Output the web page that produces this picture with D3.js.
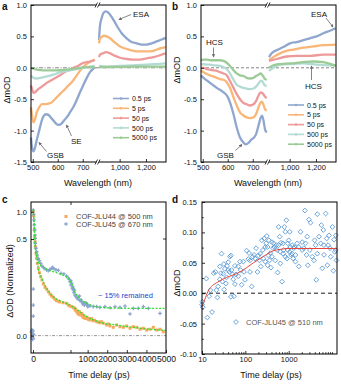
<!DOCTYPE html>
<html><head><meta charset="utf-8">
<script src="https://cdn.jsdelivr.net/npm/d3@7"></script>
<style>
body{margin:0;background:#fff}
svg{display:block}
text{font-family:'Liberation Sans',Arial,sans-serif;fill:#111}
</style>
</head><body>
<svg id="fig" width="341" height="386"></svg>
<script>
// ---------------- DATA ----------------
const seriesNames = ["0.5 ps","5 ps","50 ps","500 ps","5000 ps"];
const seriesColors = ["#8fa7cf","#f8b678","#ee9a9a","#b2dbd3","#9ccb98"];

// Panel a : [wavelength nm, ΔmOD]
const a05 = [[493,-1.11],[497,-1.27],[503,-1.33],[509,-1.27],[516,-1.15],[527,-0.98],[536,-0.84],[545,-0.76],[553,-0.74],[563,-0.75],[572,-0.79],[583,-0.84],[593,-0.89],[604,-0.91],[615,-0.89],[625,-0.84],[636,-0.79],[649,-0.71],[663,-0.62],[676,-0.51],[689,-0.39],[703,-0.27],[716,-0.16],[729,-0.07],[743,-0.01],[748,0.01],
  [843,0.44],[851,0.68],[863,0.79],[876,0.87],[896,0.90],[914,0.88],[939,0.81],[965,0.72],[990,0.63],[1015,0.55],[1053,0.47],[1091,0.41],[1129,0.39],[1167,0.37],[1205,0.37],[1243,0.39],[1281,0.42],[1319,0.45],[1349,0.48]];
const a5 = [[493,-0.63],[497,-0.76],[503,-0.87],[509,-0.82],[516,-0.71],[527,-0.62],[536,-0.58],[549,-0.58],[563,-0.57],[576,-0.55],[589,-0.50],[603,-0.44],[616,-0.39],[629,-0.34],[643,-0.28],[656,-0.23],[669,-0.16],[683,-0.08],[696,-0.01],[709,0.04],[723,0.08],[736,0.11],[748,0.13],
  [843,0.39],[851,0.47],[863,0.49],[881,0.51],[901,0.50],[927,0.47],[965,0.40],[1003,0.34],[1053,0.30],[1104,0.27],[1154,0.26],[1205,0.26],[1256,0.27],[1306,0.31],[1349,0.33]];
const a50 = [[493,-0.28],[499,-0.36],[503,-0.40],[509,-0.39],[519,-0.35],[529,-0.32],[543,-0.28],[556,-0.24],[569,-0.21],[583,-0.18],[596,-0.15],[609,-0.12],[623,-0.08],[636,-0.05],[649,-0.03],[663,0.00],[676,0.02],[689,0.05],[703,0.08],[716,0.09],[729,0.10],[748,0.12],
  [843,0.17],[851,0.21],[871,0.23],[896,0.25],[927,0.23],[965,0.19],[1003,0.16],[1053,0.14],[1104,0.13],[1154,0.13],[1205,0.15],[1256,0.17],[1306,0.20],[1349,0.23]];
const a500 = [[493,-0.12],[503,-0.16],[516,-0.17],[529,-0.16],[543,-0.15],[563,-0.13],[583,-0.11],[609,-0.07],[636,-0.05],[663,-0.03],[689,-0.01],[716,0.01],[748,0.03],
  [843,0.03],[901,0.02],[1003,0.03],[1104,0.04],[1205,0.05],[1349,0.07]];
const a5000 = [[493,0.00],[516,-0.03],[543,-0.04],[569,-0.04],[596,-0.04],[636,-0.03],[676,-0.01],[716,0.01],[748,0.01],
  [843,0.01],[1104,0.02],[1349,0.02]];

// Panel b
const b05 = [[493,-0.12],[503,-0.16],[516,-0.20],[529,-0.24],[543,-0.28],[556,-0.32],[569,-0.35],[583,-0.39],[596,-0.44],[609,-0.55],[623,-0.74],[636,-0.95],[649,-1.11],[663,-1.19],[673,-1.22],[684,-1.19],[695,-1.14],[705,-1.11],[713,-1.06],[723,-0.92],[732,-0.79],[737,-0.76],[743,-0.84],[749,-0.98],[756,-1.03],
  [843,0.17],[863,0.23],[901,0.28],[952,0.33],[1003,0.39],[1053,0.41],[1104,0.44],[1154,0.47],[1205,0.50],[1256,0.55],[1306,0.59],[1349,0.63]];
const b5 = [[493,-0.04],[503,-0.07],[516,-0.10],[529,-0.12],[543,-0.14],[556,-0.16],[569,-0.18],[583,-0.19],[596,-0.23],[609,-0.32],[623,-0.47],[636,-0.60],[649,-0.71],[663,-0.76],[676,-0.79],[689,-0.80],[703,-0.79],[713,-0.74],[723,-0.63],[732,-0.55],[737,-0.54],[743,-0.59],[749,-0.66],[756,-0.68],
  [843,0.12],[876,0.17],[927,0.23],[977,0.27],[1028,0.29],[1104,0.32],[1180,0.34],[1256,0.36],[1349,0.37]];
const b50 = [[493,0.00],[503,0.00],[516,-0.02],[529,-0.03],[543,-0.04],[556,-0.05],[569,-0.07],[583,-0.09],[596,-0.12],[609,-0.21],[623,-0.32],[636,-0.42],[649,-0.50],[663,-0.56],[676,-0.58],[689,-0.60],[703,-0.58],[713,-0.53],[723,-0.44],[732,-0.39],[737,-0.40],[743,-0.42],[749,-0.46],[756,-0.48],
  [843,0.11],[901,0.14],[977,0.18],[1053,0.19],[1154,0.19],[1256,0.21],[1349,0.21]];
const b500 = [[493,0.05],[503,0.06],[516,0.05],[529,0.05],[543,0.04],[556,0.04],[569,0.03],[583,0.01],[596,-0.02],[609,-0.09],[623,-0.19],[636,-0.27],[649,-0.30],[663,-0.32],[676,-0.33],[689,-0.34],[703,-0.33],[713,-0.30],[723,-0.25],[732,-0.21],[737,-0.21],[743,-0.25],[749,-0.28],[756,-0.29],
  [843,-0.05],[876,0.00],[927,0.05],[1003,0.06],[1104,0.07],[1205,0.05],[1306,0.04],[1349,0.04]];
const b5000 = [[493,0.11],[503,0.13],[516,0.13],[529,0.12],[543,0.12],[569,0.12],[583,0.11],[596,0.08],[609,0.03],[623,-0.04],[636,-0.09],[649,-0.12],[663,-0.13],[676,-0.16],[689,-0.17],[703,-0.16],[713,-0.13],[723,-0.11],[732,-0.09],[737,-0.11],[743,-0.14],[749,-0.18],[756,-0.19],
  [843,0.00],[876,0.04],[927,0.06],[1003,0.07],[1104,0.09],[1180,0.10],[1256,0.09],[1349,0.03]];

const specYTicks = [1.0,0.5,0.0,-0.5,-1.0,-1.5];
const specXTicksL = [500,600,700];
const specXTicksR = [1000,1200];

// Panel c : [time ps, ΔOD normalized]
const c44 = [[-5,0.01],[-1,-0.01],[1,1.01],[2.6,0.93],[5.2,0.67],[6.5,0.54],[7.8,0.486],[9.1,0.46],[11.8,0.426],[14.4,0.40],[17,0.374],[21,0.348],[24.9,0.326],[30.2,0.305],[35.5,0.288],[40.8,0.267],[47.3,0.25],[54,0.24],[60.5,0.227],[67,0.215],[73.6,0.205],[80,0.198],[86.6,0.188],[93,0.181],[100,0.178],[106,0.174],[119,0.17],[133,0.167],[139.5,0.158],[146,0.153],[185,0.15],[268,0.146],[320,0.142],[354,0.139],[380,0.133],[405,0.129],[450,0.125],[475,0.119],[523,0.112],[550,0.118],[575,0.124],[609,0.107],[640,0.11],[696,0.115],[720,0.104],[747,0.098],[790,0.094],[813,0.101],[865,0.089],[900,0.09],[951,0.095],[1000,0.09],[1033,0.084],[1120,0.081],[1150,0.085],[1204,0.088],[1288,0.077],[1350,0.079],[1462,0.072],[1550,0.07],[1630,0.067],[1700,0.072],[1800,0.064],[1970,0.055],[2050,0.06],[2141,0.05],[2311,0.043],[2481,0.055],[2651,0.046],[2822,0.043],[2992,0.05],[3162,0.038],[3332,0.046],[3502,0.043],[3672,0.033],[3843,0.038],[4013,0.029],[4183,0.033],[4353,0.043],[4524,0.029],[4694,0.033],[4864,0.02]];
const c45 = [[-6,0.02],[-5,-0.01],[-4,0.03],[-3,0.0],[-2,-0.02],[-1,0.01],[0,0.025],[1,-0.015],[2,0.005],[1,0.241],[1,0.158],[1,0.101],[1.1,1.03],[2.6,0.95],[3.9,0.85],[5.2,0.76],[6.5,0.67],[7.8,0.57],[8.5,0.51],[9.1,0.478],[11.8,0.452],[14.4,0.434],[17,0.417],[21,0.40],[24.9,0.388],[30.2,0.374],[35.5,0.36],[40.8,0.353],[47.3,0.346],[54,0.34],[60.5,0.336],[67,0.343],[73.6,0.348],[77.5,0.353],[82.9,0.346],[90.8,0.34],[100,0.338],[110.5,0.322],[122,0.319],[133,0.308],[139.5,0.297],[143.5,0.291],[146,0.279],[149,0.284],[150,0.262],[185,0.27],[218,0.245],[237,0.253],[268,0.236],[303,0.222],[320,0.236],[354,0.21],[390,0.205],[441,0.198],[475,0.193],[523,0.188],[575,0.205],[609,0.181],[660,0.184],[696,0.175],[747,0.164],[778,0.17],[830,0.158],[865,0.167],[915,0.17],[951,0.162],[1002,0.15],[1033,0.155],[1120,0.153],[1288,0.15],[1462,0.15],[1630,0.146],[1886,0.15],[2141,0.144],[2396,0.15],[2651,0.146],[2907,0.153],[3162,0.112],[3332,0.141],[3587,0.141],[3843,0.15],[4098,0.141],[4694,0.115]];
const cFit45 = [[1,1.04],[3.9,0.79],[6.5,0.54],[9.1,0.452],[14.4,0.409],[21,0.383],[34,0.36],[54,0.343],[80,0.331],[106,0.319],[139.5,0.297],[185,0.27],[354,0.227],[609,0.193],[951,0.167],[1462,0.15],[2141,0.143],[3332,0.141],[4983,0.141]];
const cFit44 = [[1,1.04],[5.2,0.67],[9.1,0.46],[14.4,0.405],[21,0.348],[34,0.297],[54,0.245],[80,0.201],[106,0.181],[146,0.158],[441,0.136],[951,0.098],[1630,0.069],[2481,0.055],[3332,0.043],[4183,0.033],[4983,0.027]];
const cXTicks = [0,1000,2000,3000,4000,5000];
const cYTicks = [0.0,0.5,1.0];
const cLegend = ["COF-JLU44 @ 500 nm","COF-JLU45 @ 670 nm"];

// Panel d : [time ps, ΔmOD]
const d45 = [[10,-0.019],[10.2,-0.014],[10.4,-0.023],[12.6,0.024],[13.3,-0.040],[14.6,-0.005],[15.6,0.005],[17.1,-0.031],[18.7,0.033],[20.4,0.035],[21.5,0.005],[22.7,-0.007],[23.6,0.011],[25.8,0.023],[25.8,0.044],[27.2,0.033],[28.2,0.065],[29.7,0.019],[30.8,0.032],[31.9,0.048],[32.5,0.006],[33.7,0.040],[35.5,0.016],[36.8,0.026],[38.1,0.045],[40.3,0.051],[40.3,0.038],[42.5,0.035],[44.0,0.060],[46.4,0.062],[46.4,-0.006],[48.1,0.038],[50.7,0.031],[52.6,0.023],[54.5,-0.005],[57.5,0.045],[57.5,0.015],[60.7,0.031],[68.7,0.044],[68.7,0.028],[75.2,0.052],[77.9,0.038],[82.2,0.014],[89.8,0.052],[93.1,0.035],[98.2,0.022],[107,0.070],[117,0.056],[122,0.066],[128,0.035],[128,0.054],[140,0.011],[148,0.060],[159,0.063],[168,0.057],[177,0.074],[190,0.035],[200,0.062],[211,0.054],[219,0.065],[227,0.044],[240,0.087],[253,0.071],[263,0.057],[272,0.090],[287,0.076],[287,0.052],[303,0.082],[313,0.094],[325,0.046],[325,0.076],[343,0.062],[349,0.087],[362,0.054],[375,0.066],[388,0.042],[410,0.084],[410,0.060],[433,0.074],[448,0.082],[465,0.076],[490,0.054],[517,0.079],[536,0.071],[555,0.034],[585,0.109],[585,0.079],[618,0.093],[640,0.068],[640,0.049],[663,0.083],[700,0.019],[739,0.082],[739,0.065],[765,0.071],[793,0.109],[836,0.101],[836,0.060],[883,0.120],[915,0.057],[948,0.071],[948,0.082],[1000,0.087],[1055,0.101],[1055,0.068],[1094,0.076],[1133,0.063],[1197,0.065],[1197,0.079],[1262,0.057],[1307,0.074],[1355,0.076],[1429,0.063],[1429,0.052],[1563,0.082],[1710,0.044],[1710,0.076],[1868,0.101],[2043,0.071],[2043,0.084],[2234,0.074],[2357,0.136],[2443,0.082],[2578,0.063],[2669,0.093],[2767,0.046],[2920,0.121],[3078,0.071],[3190,0.116],[3488,0.060],[3814,0.054],[3953,0.087],[4169,0.079],[4323,0.022],[4561,0.130],[4561,0.065],[4987,0.093],[5451,0.082],[5653,0.112],[5962,0.041],[6288,0.104],[6520,0.079],[6520,0.063],[7126,0.131],[7516,0.090],[7793,0.046],[8081,0.079],[8523,0.095],[8990,0.074],[9315,0.060],[10180,0.109],[10740,0.037],[11130,0.088],[11540,0.068],[12170,0.095],[12170,0.071],[12620,0.054]];
const dFit = [[10,-0.022],[11.5,-0.011],[13.8,0.003],[16.5,0.011],[21.5,0.017],[28.1,0.022],[36.8,0.026],[52.5,0.030],[75,0.035],[107,0.042],[153,0.050],[219,0.057],[313,0.064],[446,0.070],[638,0.072],[912,0.0735],[13000,0.0735]];
const dXTicks = [10,100,1000];
const dYTicks = [0.15,0.10,0.05,0.00,-0.05,-0.10];
const dLegend = "COF-JLU45 @ 510 nm";

// ---------------- DRAW ----------------
const svg = d3.select("#fig");
const defs = svg.append("defs");
defs.append("marker").attr("id","arr").attr("viewBox","0 0 6 6").attr("refX",5).attr("refY",3)
  .attr("markerWidth",4).attr("markerHeight",4).attr("orient","auto-start-reverse")
  .append("path").attr("d","M0,0L6,3L0,6Z").attr("fill","#666");

function styleAxis(g, fs){
  g.select(".domain").remove();
  g.selectAll(".tick line").attr("stroke","#000").attr("stroke-width",0.8);
  g.selectAll(".tick text").attr("font-size",fs||7.5).attr("fill","#111");
}
function frame(x0,y0,x1,y1){
  svg.append("rect").attr("x",x0).attr("y",y0).attr("width",x1-x0).attr("height",y1-y0)
    .attr("fill","none").attr("stroke","#000").attr("stroke-width",1);
}
function label(txt,x,y,opts){
  const t = svg.append("text").attr("x",x).attr("y",y).text(txt);
  opts = opts||{};
  t.attr("font-size",opts.fs||8);
  if(opts.anchor) t.attr("text-anchor",opts.anchor);
  if(opts.weight) t.attr("font-weight",opts.weight);
  if(opts.fill) t.style("fill",opts.fill);
  if(opts.rot) t.attr("transform",`rotate(-90,${x},${y})`);
  return t;
}
function annot(x1,y1,x2,y2){
  svg.append("line").attr("x1",x2).attr("y1",y2).attr("x2",x1).attr("y2",y1)
    .attr("stroke","#666").attr("stroke-width",0.8).attr("marker-end","url(#arr)");
}

function spectra(ox, series, zeroDash, legX, legY, yTitleY){
  const xl = d3.scaleLinear().domain([493,757]).range([ox+31, ox+97]);
  const xr = d3.scaleLinear().domain([843,1352]).range([ox+99, ox+166]);
  const y = d3.scaleLinear().domain([-1.5,1]).range([162,5]);
  svg.append("line").attr("x1",ox+31).attr("x2",ox+166).attr("y1",y(0)).attr("y2",y(0))
    .attr("stroke","#777").attr("stroke-width",0.9).attr("stroke-dasharray",zeroDash);
  const lineL = d3.line().x(d=>xl(d[0])).y(d=>y(d[1])).curve(d3.curveMonotoneX);
  const lineR = d3.line().x(d=>xr(d[0])).y(d=>y(d[1])).curve(d3.curveMonotoneX);
  series.forEach((s,i)=>{
    svg.append("path").attr("d",lineL(s.filter(d=>d[0]<800))).attr("fill","none")
      .attr("stroke",seriesColors[i]).attr("stroke-width",2.3);
    svg.append("path").attr("d",lineR(s.filter(d=>d[0]>800))).attr("fill","none")
      .attr("stroke",seriesColors[i]).attr("stroke-width",2.3);
  });
  frame(ox+31,5,ox+166,162);
  // axis break marks
  [5,162].forEach(yy=>{
    svg.append("rect").attr("x",ox+96.5).attr("y",yy-1).attr("width",2.5).attr("height",2).attr("fill","#fff");
    [96,98.5].forEach(xx=>svg.append("line").attr("x1",ox+xx-1).attr("y1",yy+2.5).attr("x2",ox+xx+1.5).attr("y2",yy-2.5)
      .attr("stroke","#000").attr("stroke-width",0.8));
  });
  styleAxis(svg.append("g").attr("transform",`translate(${ox+31},0)`)
    .call(d3.axisLeft(y).tickValues(specYTicks).tickSize(-3).tickPadding(4).tickFormat(d=>d.toFixed(1))));
  styleAxis(svg.append("g").attr("transform",`translate(0,162)`)
    .call(d3.axisBottom(xl).tickValues(specXTicksL).tickSize(-3).tickPadding(3)));
  styleAxis(svg.append("g").attr("transform",`translate(0,162)`)
    .call(d3.axisBottom(xr).tickValues(specXTicksR).tickSize(-3).tickPadding(3)));
  label("Wavelength (nm)", ox+98, 186, {fs:9,anchor:"middle"});
  label("\u0394mOD", ox+10, yTitleY, {fs:9,anchor:"middle",rot:true});
  // legend
  seriesNames.forEach((n,i)=>{
    const yy = legY + i*9.8;
    svg.append("line").attr("x1",legX).attr("x2",legX+16).attr("y1",yy).attr("y2",yy)
      .attr("stroke",seriesColors[i]).attr("stroke-width",1.6);
    svg.append("circle").attr("cx",legX+8).attr("cy",yy).attr("r",1.3).attr("fill",seriesColors[i]);
    label(n, legX+19, yy+2.6, {fs:7});
  });
}

spectra(0, [a05,a5,a50,a500,a5000], "4,1.5,1,1.5", 113, 98.5, 90);
spectra(170, [b05,b5,b50,b500,b5000], "3,2", 288, 105, 70);

// annotations a
label("ESA",133,17,{fs:8}); annot(119,19.5,131,14.5);
label("SE",71,144,{fs:8}); annot(66.5,125,71.5,136);
label("GSB",47,157.5,{fs:8}); annot(39,142.5,46.5,151.5);
// annotations b
label("ESA",311,17,{fs:8}); annot(333,27,326,18);
label("HCS",206,45,{fs:8}); annot(213.5,57,213.5,47.5);
label("HCS",305,89,{fs:8}); annot(311.5,66,311.5,80);
label("GSB",217,157.5,{fs:8}); annot(242,144.5,235.5,150.5);

// panel letters
label("a",2,10,{fs:10,weight:"bold"});
label("b",172,10,{fs:10,weight:"bold"});
label("c",2,203,{fs:10,weight:"bold"});
label("d",172,203,{fs:10,weight:"bold"});

// ---------- panel c ----------
{
  const x = d3.scaleLinear().domain([-8,150,5000]).range([31,71,166]);
  const y = d3.scaleLinear().domain([-0.09,0.5,1.18]).range([353,239,202]);
  svg.append("line").attr("x1",31).attr("x2",166).attr("y1",y(0)).attr("y2",y(0))
    .attr("stroke","#888").attr("stroke-width",0.9).attr("stroke-dasharray","3,1.5,1,1.5");
  svg.selectAll(".sq").data(c44).join("rect").attr("x",d=>x(d[0])-1.5).attr("y",d=>y(d[1])-1.5)
    .attr("width",3).attr("height",3).attr("fill","#f6a85c");
  const cross = "M-1.8,0H1.8M0,-1.8V1.8";
  svg.selectAll(".cr").data(c45).join("path").attr("d",cross)
    .attr("transform",d=>`translate(${x(d[0])},${y(d[1])})`).attr("stroke","#8ba5d0").attr("stroke-width",1.3).attr("fill","none");
  const fl = d3.line().x(d=>x(d[0])).y(d=>y(d[1])).curve(d3.curveMonotoneX);
  [cFit45,cFit44].forEach(f=>svg.append("path").attr("d",fl(f)).attr("fill","none")
    .attr("stroke","#2fe02f").attr("stroke-width",1.3).attr("stroke-dasharray","2,1.5"));
  frame(31,202,166,353);
  styleAxis(svg.append("g").attr("transform","translate(31,0)")
    .call(d3.axisLeft(y).tickValues(cYTicks).tickSize(-3).tickPadding(4).tickFormat(d=>d.toFixed(1))));
  styleAxis(svg.append("g").attr("transform","translate(0,353)")
    .call(d3.axisBottom(x).tickValues(cXTicks).tickSize(-3).tickPadding(3).tickFormat(d3.format("d"))), 8.6);
  // break ticks and right tick
  [[x(150),353,x(150),350],[x(150),202,x(150),205],[166,y(0.5),163,y(0.5)]].forEach(l=>
    svg.append("line").attr("x1",l[0]).attr("y1",l[1]).attr("x2",l[2]).attr("y2",l[3]).attr("stroke","#000").attr("stroke-width",0.8));
  label("Time delay (ps)",99,378,{fs:9,anchor:"middle"});
  label("\u0394OD (Normalized)",13,281,{fs:9,anchor:"middle",rot:true});
  // legend
  svg.append("rect").attr("x",64.5).attr("y",215).attr("width",3).attr("height",3).attr("fill","#f6a85c");
  svg.append("path").attr("d",cross).attr("transform","translate(66,224)").attr("stroke","#8ba5d0").attr("stroke-width",1.3);
  label(cLegend[0],76,219.3,{fs:7.5,fill:"#444"});
  label(cLegend[1],76,227.3,{fs:7.5,fill:"#444"});
  label("~ 15% remained",98,298,{fs:7.5,fill:"#2443d0"});
}

// ---------- panel d ----------
{
  const x = d3.scaleLog().domain([10,13000]).range([202,337]);
  const y = d3.scaleLinear().domain([-0.1,0.15]).range([354,202]);
  svg.append("line").attr("x1",202).attr("x2",337).attr("y1",y(0)).attr("y2",y(0))
    .attr("stroke","#000").attr("stroke-width",0.9).attr("stroke-dasharray","4,3");
  const dia = "M0,-2.4L2.4,0L0,2.4L-2.4,0Z";
  svg.selectAll(".dm").data(d45).join("path").attr("d",dia)
    .attr("transform",d=>`translate(${x(d[0])},${y(d[1])})`).attr("fill","none").attr("stroke","#5b9bd6").attr("stroke-width",0.9);
  const fl = d3.line().x(d=>x(d[0])).y(d=>y(d[1])).curve(d3.curveMonotoneX);
  svg.append("path").attr("d",fl(dFit)).attr("fill","none").attr("stroke","#e8453f").attr("stroke-width",1);
  frame(202,202,337,354);
  styleAxis(svg.append("g").attr("transform","translate(202,0)")
    .call(d3.axisLeft(y).tickValues(dYTicks).tickSize(-3).tickPadding(5).tickFormat(d=>d.toFixed(2))));
  styleAxis(svg.append("g").attr("transform","translate(202,0)")
    .call(d3.axisLeft(y).tickValues([0.125,0.075,0.025,-0.025,-0.075]).tickSize(-1.8).tickFormat("")));
  styleAxis(svg.append("g").attr("transform","translate(0,354)")
    .call(d3.axisBottom(x).tickValues(dXTicks).tickSize(-3).tickPadding(3).tickFormat(d3.format("d"))));
  const minors = [];
  [10,100,1000].forEach(b=>{for(let k=2;k<=9;k++) minors.push(b*k);});
  minors.push(10000);
  styleAxis(svg.append("g").attr("transform","translate(0,354)")
    .call(d3.axisBottom(x).tickValues(minors).tickSize(-1.8).tickFormat("")));
  label("Time delay (ps)",271,378,{fs:9,anchor:"middle"});
  label("\u0394mOD",180,283,{fs:9,anchor:"middle",rot:true});
  svg.append("path").attr("d",dia).attr("transform","translate(236,322)").attr("fill","none").attr("stroke","#5b9bd6").attr("stroke-width",0.9);
  label(dLegend,246,325,{fs:7.5,fill:"#555"});
}
</script>
</body></html>
